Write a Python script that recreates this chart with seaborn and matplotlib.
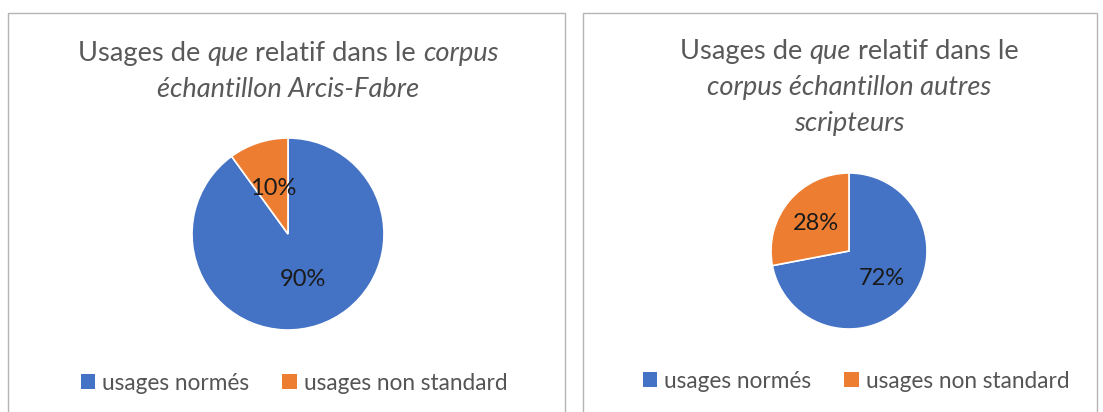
import matplotlib
matplotlib.use("Agg")
import matplotlib.pyplot as plt
import seaborn as sns
from matplotlib.patches import Rectangle, Patch

# data
categories = ["usages normés", "usages non standard"]
arcis_fabre = [90, 10]
autres = [72, 28]

sns.set_theme(style="white")
plt.rcParams["font.family"] = ["Lato", "DejaVu Sans"]

colors = ["#4472C4", "#ED7D31"]
GRAY = "#595959"
W, H = 1103, 412

fig = plt.figure(figsize=(W / 100, H / 100), dpi=100)
fig.patch.set_facecolor("white")

# panel borders
for x0, x1 in [(8, 565), (583, 1097)]:
    fig.patches.append(Rectangle((x0 / W, -0.05), (x1 - x0) / W, (H - 13) / H + 0.05,
                                 transform=fig.transFigure, fill=False,
                                 edgecolor="#b4b4b4", linewidth=1))

renderer = fig.canvas.get_renderer()


def width_of(s, italic, size):
    t = fig.text(0, 0, s, fontsize=size, style="italic" if italic else "normal")
    w = t.get_window_extent(renderer).width
    t.remove()
    return w


def rich_line(xc, ybase, parts, size=19.6):
    # parts: list of (text, italic); words in different parts are separated by a space
    sp = width_of("x x", False, size) - width_of("xx", False, size)
    items = []
    for s, it in parts:
        t = fig.text(0, 1 - ybase / H, s, fontsize=size, color=GRAY,
                     style="italic" if it else "normal", va="baseline", ha="left")
        items.append(t)
    widths = [t.get_window_extent(renderer).width for t in items]
    total = sum(widths) + sp * (len(items) - 1)
    x = xc - total / 2
    for t, w in zip(items, widths):
        t.set_x(x / W)
        x += w + sp


# titles
rich_line(288, 61, [("Usages de", False), ("que", True), ("relatif dans le", False), ("corpus", True)])
rich_line(288, 97, [("échantillon Arcis-Fabre", True)])
rich_line(849, 59, [("Usages de", False), ("que", True), ("relatif dans le", False)])
rich_line(849, 95, [("corpus échantillon autres", True)])
rich_line(849, 131, [("scripteurs", True)])


def draw_pie(cx, cy, r, values, pct):
    ax = fig.add_axes([(cx - r) / W, 1 - (cy + r) / H, 2 * r / W, 2 * r / H])
    ax.pie(values, colors=colors, startangle=90, counterclock=False,
           autopct="%d%%", pctdistance=pct,
           wedgeprops=dict(edgecolor="white", linewidth=1.2),
           textprops=dict(fontsize=17, color="#1a1a1a"))
    ax.set_xlim(-1, 1)
    ax.set_ylim(-1, 1)
    ax.set_aspect("equal")
    ax.axis("off")


draw_pie(288, 234, 96, arcis_fabre, 0.5)
draw_pie(849, 251, 78, autres, 0.55)

# legends
handles = [Patch(facecolor=c, edgecolor="none") for c in colors]
for xc, yc in [(294, 383), (856, 381)]:
    fig.legend(handles, categories, loc="center", bbox_to_anchor=(xc / W, 1 - yc / H),
               ncol=2, frameon=False, fontsize=16.3, labelcolor="#555555",
               handlelength=0.65, handleheight=0.65, handletextpad=0.3,
               columnspacing=1.45)

fig.savefig("out.png", dpi=100, facecolor="white")
